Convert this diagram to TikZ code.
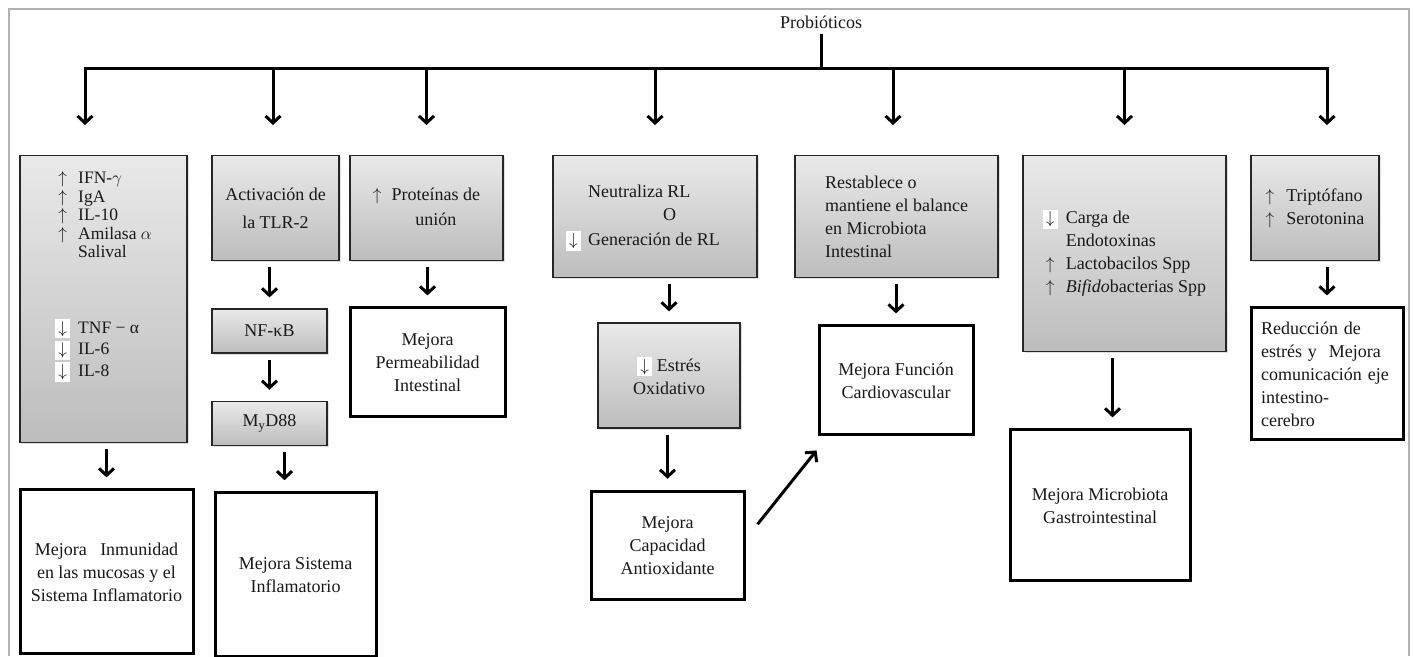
\documentclass[tikz,border=0pt]{standalone}
\usepackage{fontspec}
\setmainfont{Liberation Serif}
\usetikzlibrary{positioning, calc, shadows, arrows.meta}

\newcommand{\arrup}{$\uparrow$}
\newcommand{\arrdn}{{\setlength{\fboxsep}{2pt}\colorbox{white}{\makebox[11pt]{$\downarrow$}}}}

\begin{document}
\begin{tikzpicture}[
    x=1pt, y=-1pt,
    font=\fontsize{18}{23}\selectfont,
    gbox/.style={draw=black!85, line width=1.4pt, top color=gray!17, bottom color=gray!52,
        inner sep=0pt, align=center, text=black!90,
        drop shadow={shadow xshift=1.5pt, shadow yshift=-1.5pt, opacity=0.25}},
    resbox/.style={draw=black, line width=3pt, fill=white, align=center, text=black!90, inner sep=0pt},
    arrow/.style={-{Straight Barb[length=7pt, width=15pt]}, line width=3pt, shorten <=6pt, shorten >=11pt},
    busline/.style={line width=3pt, line cap=rect}
]
    \useasboundingbox (0,0) rectangle (1413,656);
    \draw[gray!60, line width=2.5pt] (9,656) -- (9,9) -- (1409,9) -- (1409,656);

    % Title
    \node[inner sep=2pt, text=black!90] (title) at (821,22) {Probióticos};
    \coordinate (busy) at (820,68);

    % Top row
    \node[gbox, anchor=north, minimum width=167pt, minimum height=287pt] (immu) at (103.5,155) {%
        \fontsize{17.5}{18.5}\selectfont
        \begin{tabular}{@{}l@{\hspace{8pt}}l@{}}
        \makebox[15pt]{\arrup} & IFN-$\gamma$\\
        \makebox[15pt]{\arrup} & IgA\\
        \makebox[15pt]{\arrup} & IL-10\\
        \makebox[15pt]{\arrup} & Amilasa $\alpha$\\
               & Salival\\[56pt]
        \arrdn & TNF − α\\[2pt]
        \arrdn & IL-6\\[2pt]
        \arrdn & IL-8\\[46pt]
        \end{tabular}};
    \node[gbox, anchor=north, minimum width=127pt, minimum height=105pt] (tlr) at (275.5,155) {Activación de\\[5pt]la TLR-2};
    \node[gbox, anchor=north, minimum width=153pt, minimum height=105pt] (prot) at (426.5,155) {%
        \begin{tabular}{@{}l@{\hspace{10pt}}c@{}}
        \arrup & Proteínas de\\[2pt]
               & unión
        \end{tabular}};
    \node[gbox, anchor=north, minimum width=204pt, minimum height=122pt] (neut) at (655,155) {%
        \begin{tabular}{@{}l@{\hspace{7pt}}l@{\hspace{24pt}}}
               & Neutraliza RL\\
               & \hspace{75pt}O\\[2pt]
        \arrdn & Generación de RL
        \end{tabular}};
    \node[gbox, anchor=north, minimum width=203pt, minimum height=122pt, align=left] (bal) at (896.5,155) {Restablece o\\mantiene el balance\\en Microbiota\\Intestinal};
    \node[gbox, anchor=north, minimum width=203pt, minimum height=196pt] (endo) at (1124.5,155) {%
        \begin{tabular}{@{}l@{\hspace{8pt}}l@{}}
        \arrdn & Carga de\\
               & Endotoxinas\\
        \makebox[15pt]{\arrup} & Lactobacilos Spp\\
        \makebox[15pt]{\arrup} & \textit{Bifido}bacterias Spp
        \end{tabular}};
    \node[gbox, anchor=north, minimum width=128pt, minimum height=105pt] (tript) at (1315,155) {%
        \begin{tabular}{@{}l@{\hspace{12pt}}l@{}}
        \arrup & Triptófano\\
        \arrup & Serotonina
        \end{tabular}};

    % Intermediate steps
    \node[gbox, below=47pt of tlr, xshift=-6pt, minimum width=115pt, minimum height=44pt] (nfkb) {NF-κB};
    \node[gbox, below=47pt of nfkb, minimum width=115pt, minimum height=44pt] (myd) {M\textsubscript{y}D88};
    \node[gbox, below=44pt of neut, xshift=14pt, minimum width=142pt, minimum height=105pt] (estr) {\arrdn\ Estrés\\Oxidativo};

    % Results
    \node[resbox, below=45pt of immu, xshift=3pt, minimum width=173pt, minimum height=164pt] (inmun) {Mejora\ \ \ Inmunidad\\en las mucosas y el\\Sistema Inflamatorio};
    \node[resbox, below=45pt of myd, xshift=26pt, minimum width=161pt, minimum height=164pt] (inflam) {Mejora Sistema\\Inflamatorio};
    \node[resbox, below=45pt of prot, xshift=1pt, minimum width=155pt, minimum height=109pt] (perm) {Mejora\\Permeabilidad\\Intestinal};
    \node[resbox, below=61pt of estr, xshift=-1.5pt, minimum width=153pt, minimum height=108pt] (antiox) {Mejora\\Capacidad\\Antioxidante};
    \node[resbox, below=46pt of bal, xshift=-0.5pt, minimum width=154pt, minimum height=109pt] (card) {Mejora Función\\Cardiovascular};
    \node[resbox, below=76pt of endo, xshift=-24.5pt, minimum width=180pt, minimum height=151pt] (micro) {Mejora Microbiota\\Gastrointestinal};
    \node[resbox, below=45pt of tript, xshift=12pt, minimum width=152pt, minimum height=132pt, text width=132pt, align=left] (redu) {Reducción de\\estrés y\ \ Mejora\\comunicación eje\\intestino-\\cerebro};

    % Bus from title
    \draw[busline, shorten <=5pt] (title.south) -- (title.south |- busy);
    \coordinate (b1) at ([xshift=-18.5pt]immu.north);
    \coordinate (b7) at ([xshift=12pt]tript.north);
    \draw[busline] (b1 |- busy) -- (b7 |- busy);
    \foreach \n/\dx in {immu/-18.5, tlr/-2.5, prot/0, neut/0, bal/-3.5, endo/0, tript/12} {
        \coordinate (d) at ([xshift=\dx pt]\n.north);
        \draw[arrow, shorten <=0pt, shorten >=30pt] (d |- busy) -- (d);
    }

    % Arrows
    \draw[arrow] (immu.south -| inmun) -- (inmun);
    \draw[arrow] (tlr.south -| nfkb) -- (nfkb);
    \draw[arrow] (nfkb) -- (myd);
    \coordinate (m) at ([xshift=15pt]myd.south);
    \draw[arrow] (m) -- (m |- inflam.north);
    \draw[arrow] (prot.south -| perm) -- (perm);
    \draw[arrow] (neut.south -| estr) -- (estr);
    \draw[arrow] (estr.south -| antiox) -- (antiox);
    \draw[arrow] (bal.south -| card) -- (card);
    \coordinate (e) at ([xshift=-12pt]endo.south);
    \draw[arrow] (e) -- (e |- micro.north);
    \draw[arrow] (tript.south -| redu) -- (redu);
    \draw[arrow, shorten <=0pt, shorten >=0pt] ([shift={(12,-21)}]antiox.east) -- ([shift={(-1,14)}]card.south west);
\end{tikzpicture}
\end{document}
